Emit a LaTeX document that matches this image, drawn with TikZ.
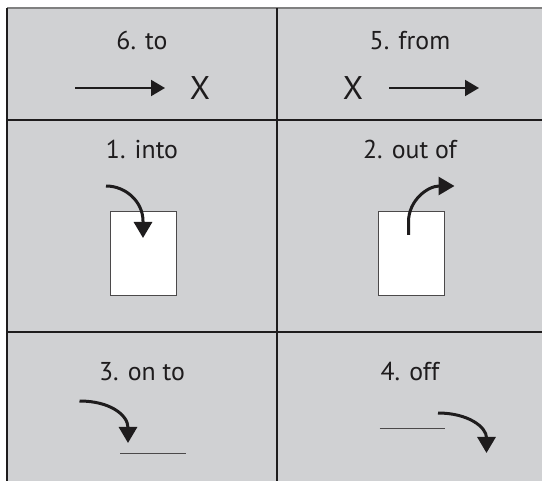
\documentclass[tikz,border=0pt]{standalone}
\usepackage{fontspec}
\setmainfont{PT Sans}
\usepackage{xcolor}
\usetikzlibrary{arrows.meta}
\definecolor{cellgray}{RGB}{208,209,211}
\definecolor{inkgray}{RGB}{30,28,29}

\begin{document}
\begin{tikzpicture}[
    x=0.5pt, y=-0.5pt,
    lbl/.style={anchor=base, inner sep=0pt, font=\fontsize{12.9}{15}\selectfont, text=inkgray},
    bigx/.style={inner sep=0pt, font=\fontsize{16.4}{19}\selectfont, text=inkgray},
    page/.style={draw=inkgray!80, line width=0.5pt, fill=white, minimum width=33pt, minimum height=42pt, inner sep=0pt},
    grid/.style={draw=inkgray, line width=1pt},
    arr/.style={-{Triangle[length=7pt, width=8pt]}, line width=1pt, draw=inkgray},
    curv/.style={-{Triangle[length=8pt, width=9pt]}, line width=1.5pt, draw=inkgray},
    plate/.style={draw=inkgray!80, line width=0.5pt}
]
\useasboundingbox (0,0) rectangle (542,481);
\fill[cellgray] (7,8) rectangle (542,481);
% table lines
\draw[draw=gray, line width=0.8pt] (7,8) -- (542,8);
\draw[grid] (7,8) -- (7,481);
\draw[grid] (277,8) -- (277,481);
\draw[grid] (7,120) -- (542,120);
\draw[grid] (7,332) -- (542,332);

% row 1
\node[lbl] (to) at (142,50) {6. to};
\node[lbl] (from) at (410,50) {5. from};
\node[bigx] (xto) at (200,88.5) {X};
\node[bigx] (xfrom) at (353,88.5) {X};
\coordinate (toA) at (75,88);
\coordinate (toB) at (165,88);
\coordinate (fromA) at (389,88);
\coordinate (fromB) at (479,88);
\draw[arr] (toA) -- (toB);
\draw[arr] (fromA) -- (fromB);

% row 2
\node[lbl] (into) at (142,159) {1. into};
\node[lbl] (outof) at (410,159) {2. out of};
\node[page] (inbox) at (143,254) {};
\node[page] (outbox) at (411,254) {};
\coordinate (intoA) at (106,186);
\coordinate (intoB) at (143,238);
\coordinate (outA) at (408.5,235);
\coordinate (outB) at (454.5,186);
\draw[curv] (intoA) .. controls (126,186) and (143,202) .. (143,221) -- (intoB);
\draw[curv] (outA) -- (408.5,222) .. controls (408.5,200) and (428,186) .. (outB);

% row 3
\node[lbl] (onto) at (142,381) {3. on to};
\node[lbl] (off) at (410,381) {4. off};
\coordinate (ontoL) at (120,454);
\coordinate (ontoR) at (185.5,454);
\coordinate (offL) at (379.5,429);
\coordinate (offR) at (445,429);
\draw[plate] (ontoL) -- (ontoR);
\draw[plate] (offL) -- (offR);
\coordinate (ontoA) at (79.5,401);
\coordinate (ontoB) at (128,443);
\coordinate (offA) at (438,413);
\coordinate (offB) at (486.5,453);
\draw[curv] (ontoA) .. controls (110,401) and (128,415) .. (ontoB);
\draw[curv] (offA) .. controls (468,413) and (486.5,427) .. (offB);
\end{tikzpicture}
\end{document}
